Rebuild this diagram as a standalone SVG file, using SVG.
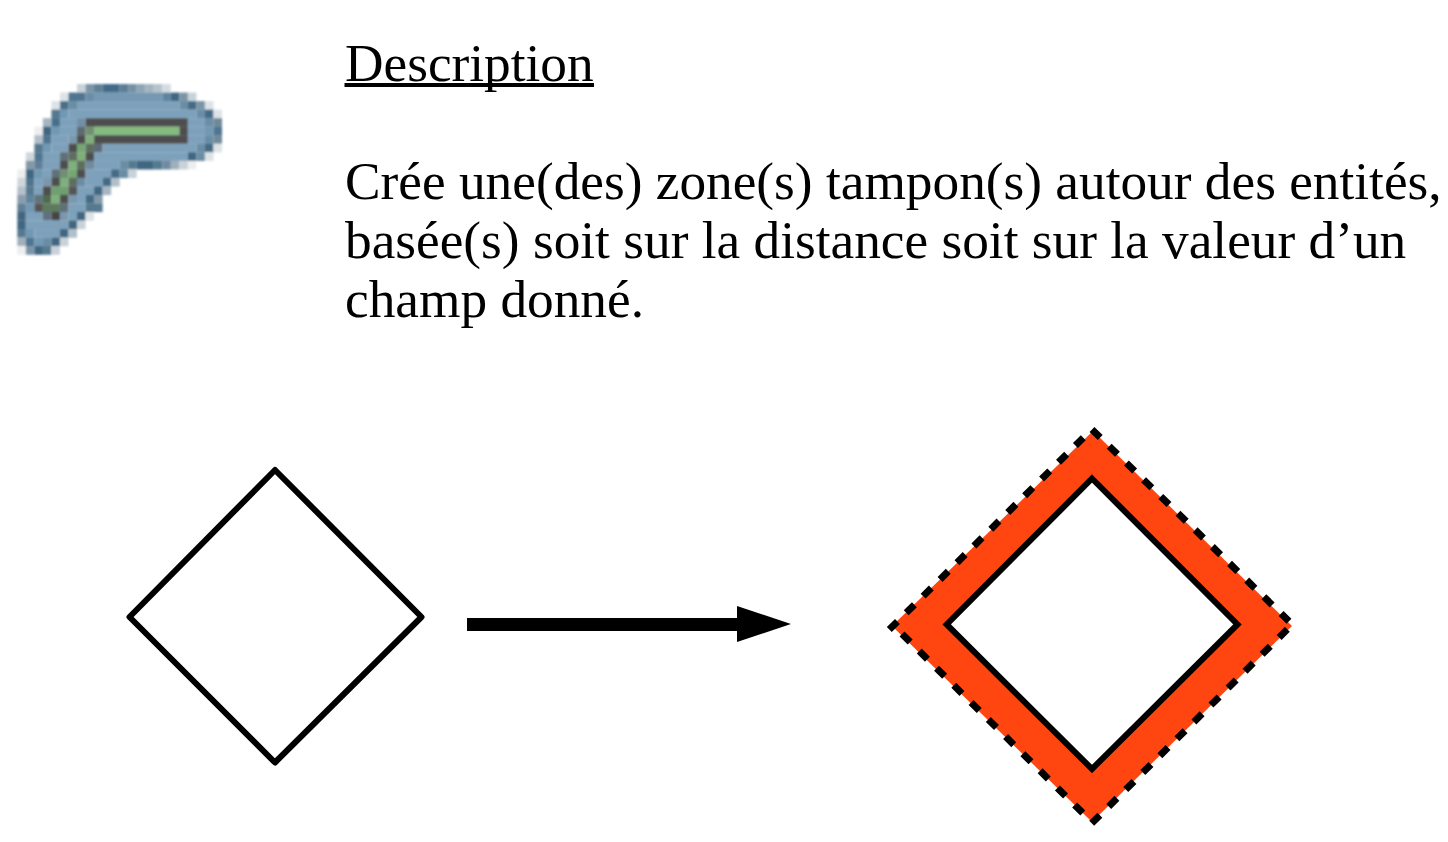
<svg xmlns="http://www.w3.org/2000/svg" width="1448" height="842" viewBox="0 0 1448 842">
<defs><filter id="soft" x="-5%" y="-5%" width="110%" height="110%"><feGaussianBlur stdDeviation="0.13"/></filter></defs>
<style>
.t{font-family:"Liberation Serif","Times New Roman",serif;font-size:53.3px;fill:#000}
.d{fill:none;stroke:#000}
.dash{stroke:#000;stroke-width:7;fill:none}
.b{fill:#7ea1bb}.k{fill:#4d4d4d}.g{fill:#85bb80}.e{fill:#3f6681}.m{fill:#6a8da5}.l{fill:#c8d2d9}
#icon rect{height:1.02px}
</style>
<rect width="1448" height="842" fill="#fff"/>
<g id="icon" transform="translate(17.3 84) scale(8.53)" filter="url(#soft)">
<g transform="translate(0 0)"><rect x="7" width="1" class="l"/><rect x="8" width="1" fill="#7a95a8"/><rect x="9" width="1" fill="#5f7f96"/><rect x="10" width="2" fill="#436b88"/><rect x="12" width="1" fill="#5b7d96"/><rect x="13" width="1" fill="#7590a5"/><rect x="14" width="1" fill="#8fa5b6"/><rect x="15" width="1" fill="#a3b4c0"/><rect x="16" width="1" fill="#b6c3cc"/><rect x="17" width="1" fill="#d5dce1"/></g>
<g transform="translate(0 1)"><rect x="5" width="1" fill="#dde3e7"/><rect x="6" width="2" fill="#4f7590"/><rect x="8" width="1" class="m"/><rect x="9" width="8" fill="#7499b3"/><rect x="17" width="1" fill="#5f84a0"/><rect x="18" width="1" class="e"/><rect x="19" width="1" fill="#7a95a8"/><rect x="20" width="1" class="l"/></g>
<g transform="translate(0 2)"><rect x="4" width="1" fill="#dde3e7"/><rect x="5" width="1" fill="#4a7089"/><rect x="6" width="1" class="m"/><rect x="7" width="12" class="b"/><rect x="19" width="1" class="m"/><rect x="20" width="1" fill="#446a85"/><rect x="21" width="1" fill="#7a95a8"/><rect x="22" width="1" fill="#dde3e7"/></g>
<g transform="translate(0 3)"><rect x="4" width="1" fill="#56788f"/><rect x="5" width="1" fill="#7199b3"/><rect x="6" width="15" class="b"/><rect x="21" width="1" class="m"/><rect x="22" width="1" fill="#446a85"/><rect x="23" width="1" fill="#dde3e7"/></g>
<g transform="translate(0 4)"><rect x="3" width="1" fill="#a5b6c2"/><rect x="4" width="1" fill="#45708c"/><rect x="5" width="2" class="b"/><rect x="7" width="1" fill="#6f90a8"/><rect x="8" width="12" class="k"/><rect x="20" width="2" class="b"/><rect x="22" width="1" class="m"/><rect x="23" width="1" fill="#6f8898"/></g>
<g transform="translate(0 5)"><rect x="2" width="1" fill="#eee"/><rect x="3" width="1" class="e"/><rect x="4" width="1" fill="#7199b3"/><rect x="5" width="2" class="b"/><rect x="7" width="1" fill="#5f6a70"/><rect x="8" width="1" fill="#6f8f72"/><rect x="9" width="10" class="g"/><rect x="19" width="1" class="k"/><rect x="20" width="2" class="b"/><rect x="22" width="1" fill="#7199b3"/><rect x="23" width="1" fill="#4f7590"/></g>
<g transform="translate(0 6)"><rect x="2" width="1" fill="#b0bfc9"/><rect x="3" width="1" fill="#4f7590"/><rect x="4" width="2" class="b"/><rect x="6" width="1" fill="#7a98ad"/><rect x="7" width="1" class="k"/><rect x="8" width="1" fill="#7fb07c"/><rect x="9" width="11" class="k"/><rect x="20" width="2" class="b"/><rect x="22" width="1" class="m"/><rect x="23" width="1" fill="#6f8898"/></g>
<g transform="translate(0 7)"><rect x="2" width="1" fill="#56788f"/><rect x="3" width="1" fill="#7199b3"/><rect x="4" width="2" class="b"/><rect x="6" width="1" class="k"/><rect x="7" width="1" fill="#74a673"/><rect x="8" width="1" fill="#5d6e5f"/><rect x="9" width="1" fill="#5b6b75"/><rect x="10" width="11" class="b"/><rect x="21" width="1" class="m"/><rect x="22" width="1" fill="#446a85"/><rect x="23" width="1" fill="#dde3e7"/></g>
<g transform="translate(0 8)"><rect x="1" width="1" fill="#d0d7dc"/><rect x="2" width="1" fill="#4f7590"/><rect x="3" width="2" class="b"/><rect x="5" width="1" fill="#5f7078"/><rect x="6" width="1" fill="#5d6e5f"/><rect x="7" width="1" fill="#7fb07c"/><rect x="8" width="1" class="k"/><rect x="9" width="11" class="b"/><rect x="20" width="1" class="e"/><rect x="21" width="1" class="m"/><rect x="22" width="1" fill="#dde3e7"/></g>
<g transform="translate(0 9)"><rect x="1" width="1" fill="#8299a8"/><rect x="2" width="1" fill="#607f99"/><rect x="3" width="2" class="b"/><rect x="5" width="1" class="k"/><rect x="6" width="1" fill="#7fb07c"/><rect x="7" width="1" fill="#5d6e5f"/><rect x="8" width="1" fill="#6f8a9f"/><rect x="9" width="3" class="b"/><rect x="12" width="1" class="m"/><rect x="13" width="1" fill="#55798f"/><rect x="14" width="2" class="e"/><rect x="16" width="1" fill="#55798f"/><rect x="17" width="1" fill="#6f8ba0"/><rect x="18" width="1" fill="#9fb0bc"/><rect x="19" width="1" class="l"/><rect x="20" width="1" fill="#eee"/></g>
<g transform="translate(0 10)"><rect x="0" width="1" fill="#eee"/><rect x="1" width="1" class="e"/><rect x="2" width="1" fill="#7199b3"/><rect x="3" width="1" class="b"/><rect x="4" width="1" fill="#5f7078"/><rect x="5" width="1" fill="#6f8f72"/><rect x="6" width="1" fill="#74a673"/><rect x="7" width="1" class="k"/><rect x="8" width="3" class="b"/><rect x="11" width="1" fill="#446a85"/><rect x="12" width="1" class="m"/><rect x="13" width="1" class="l"/></g>
<g transform="translate(0 11)"><rect x="0" width="1" fill="#d0d7dc"/><rect x="1" width="1" fill="#4f7590"/><rect x="2" width="1" class="b"/><rect x="3" width="1" fill="#7a98ad"/><rect x="4" width="1" class="k"/><rect x="5" width="1" fill="#7fb07c"/><rect x="6" width="1" fill="#5d6e5f"/><rect x="7" width="1" class="m"/><rect x="8" width="2" class="b"/><rect x="10" width="1" fill="#446a85"/><rect x="11" width="1" fill="#b0bfc9"/></g>
<g transform="translate(0 12)"><rect x="0" width="1" fill="#b5c1ca"/><rect x="1" width="1" fill="#55798f"/><rect x="2" width="1" class="b"/><rect x="3" width="1" class="k"/><rect x="4" width="2" fill="#6f9f70"/><rect x="6" width="1" fill="#555"/><rect x="7" width="2" class="b"/><rect x="9" width="1" class="e"/><rect x="10" width="1" fill="#a5b6c2"/></g>
<g transform="translate(0 13)"><rect x="0" width="1" fill="#8a9dab"/><rect x="1" width="1" fill="#5f84a0"/><rect x="2" width="1" fill="#607478"/><rect x="3" width="1" fill="#4f6a50"/><rect x="4" width="1" fill="#7fb07c"/><rect x="5" width="1" class="k"/><rect x="6" width="1" fill="#7a98ad"/><rect x="7" width="1" class="b"/><rect x="8" width="1" fill="#446a85"/><rect x="9" width="1" fill="#8299a8"/></g>
<g transform="translate(0 14)"><rect x="0" width="1" fill="#607f96"/><rect x="1" width="1" fill="#7199b3"/><rect x="2" width="1" fill="#555"/><rect x="3" width="2" fill="#5d7a5d"/><rect x="5" width="1" fill="#5f7078"/><rect x="6" width="2" class="b"/><rect x="8" width="2" fill="#55798f"/></g>
<g transform="translate(0 15)"><rect x="0" width="1" class="e"/><rect x="1" width="2" class="b"/><rect x="3" width="1" fill="#607080"/><rect x="4" width="1" fill="#444"/><rect x="5" width="1" fill="#7a98ad"/><rect x="6" width="1" class="b"/><rect x="7" width="1" class="e"/><rect x="8" width="1" fill="#dde3e7"/></g>
<g transform="translate(0 16)"><rect x="0" width="1" class="e"/><rect x="1" width="5" class="b"/><rect x="6" width="1" class="e"/><rect x="7" width="1" class="l"/></g>
<g transform="translate(0 17)"><rect x="0" width="1" fill="#56788f"/><rect x="1" width="1" fill="#7199b3"/><rect x="2" width="3" class="b"/><rect x="5" width="1" class="e"/><rect x="6" width="1" fill="#b0bfc9"/></g>
<g transform="translate(0 18)"><rect x="0" width="1" fill="#9fb0bc"/><rect x="1" width="1" fill="#4f7590"/><rect x="2" width="1" fill="#7199b3"/><rect x="3" width="1" class="m"/><rect x="4" width="1" class="e"/><rect x="5" width="1" class="l"/></g>
<g transform="translate(0 19)"><rect x="0" width="1" fill="#eee"/><rect x="1" width="1" fill="#7a95a8"/><rect x="2" width="1" class="e"/><rect x="3" width="1" fill="#55798f"/><rect x="4" width="1" class="l"/></g>
</g>
<g id="description">
<text class="t" x="345" y="81">Description</text>
<path d="M344.500 85H594" stroke="#000" stroke-width="4" fill="none"/>
<text class="t" x="345" y="199">Crée une(des) zone(s) tampon(s) autour des entités,</text>
<text class="t" x="345" y="258">basée(s) soit sur la distance soit sur la valeur d’un</text>
<text class="t" x="345" y="317">champ donné.</text>
</g>
<g id="input-polygon">
<path class="d" stroke-width="6" stroke-linejoin="round" d="M275 470L421.500 617L275 762.500L129.500 617Z"/>
</g>
<g id="connectors">
<rect x="467" y="618" width="271" height="13" fill="#000"/>
<path d="M737 606L791 624L737 642Z" fill="#000"/>
</g>
<g id="buffer-polygon">
<path d="M1093 431L1292 626L1092 822L892 626Z" fill="#ff4610"/>
<path class="dash" d="M889.300 629.600L1083.300 437.700" stroke-dasharray="11.500 12.300"/>
<path class="dash" d="M902 634L1083 813.300" stroke-dasharray="11.500 12.800"/>
<path class="dash" d="M1092 429.400L1289 621.300" stroke-dasharray="11.500 12.500"/>
<path class="dash" d="M1287.300 629.300L1091.700 823.300" stroke-dasharray="11.500 12.500"/>
<path d="M1092 478.500L1237.500 624.500L1092 769L946.700 624.500Z" fill="#fff" stroke="#000" stroke-width="6"/>
</g>
</svg>
